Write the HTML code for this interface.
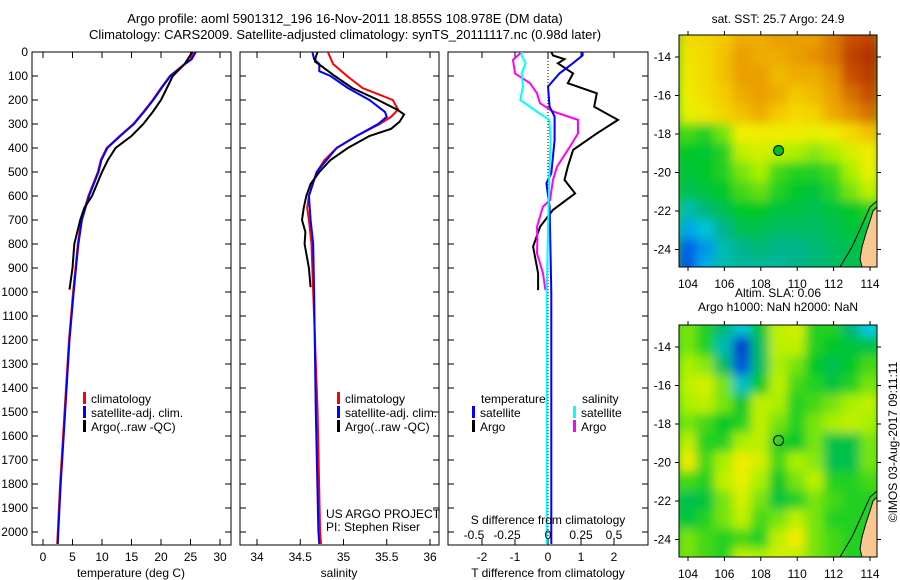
<!DOCTYPE html>
<html><head><meta charset="utf-8"><style>
html,body{margin:0;padding:0;background:#fff;}
svg{display:block;font-family:"Liberation Sans",sans-serif;}
text{font-size:12px;fill:#000;}
</style></head><body>
<svg id="fig" width="900" height="580" viewBox="0 0 900 580" xmlns="http://www.w3.org/2000/svg">
<defs><filter id="blur" x="0" y="0" width="100%" height="100%"><feGaussianBlur stdDeviation="5"/></filter>
<clipPath id="c1"><rect x="679" y="35" width="198" height="232"/></clipPath>
<clipPath id="c2"><rect x="679" y="325" width="198" height="232"/></clipPath>
<clipPath id="p1"><rect x="32" y="52" width="199" height="493"/></clipPath>
<clipPath id="p2"><rect x="240" y="52" width="199" height="493"/></clipPath>
<clipPath id="p3"><rect x="448" y="52" width="200" height="493"/></clipPath></defs>
<text x="345" y="23" text-anchor="middle" style="font-size:13px">Argo profile: aoml 5901312_196 16-Nov-2011 18.855S 108.978E (DM data)</text>
<text x="345" y="39" text-anchor="middle" style="font-size:13px">Climatology: CARS2009. Satellite-adjusted climatology: synTS_20111117.nc (0.98d later)</text>
<g id="g"></g>
</svg>
<script>
// ---- data ----
const tClimDepth=[0,30,50,100,150,200,250,300,350,400,450,500,600,700,800,900,1000,1200,1400,1600,1800,2000,2050];
const tClimVal=[25.5,25,24,21.5,20,18.6,17,15.3,13,10.8,9.8,9.3,7.7,6.5,5.9,5.5,5.1,4.4,3.9,3.4,2.9,2.5,2.4];
const tSatVal=[25.9,25.2,24.1,21.6,20.1,18.7,17.1,15.4,13.1,10.9,9.9,9.4,7.8,6.6,6.0,5.6,5.2,4.5,4.0,3.5,3.0,2.6,2.5];
const tArgoDepth=[0,50,100,150,200,250,300,350,400,450,500,600,650,700,800,900,990];
const tArgoVal=[25.3,24,22,21,20,18.6,17,15,12.3,11,10,8.3,7,6.3,5.3,5,4.5];
const sClimDepth=[0,50,100,150,200,240,270,300,350,400,450,500,600,650,700,800,1000,1500,2000,2050];
const sClimVal=[34.82,34.88,35.04,35.22,35.57,35.63,35.55,35.42,35.15,34.92,34.78,34.69,34.6,34.58,34.6,34.63,34.65,34.7,34.73,34.74];
const sSatDepth=[0,30,50,80,100,150,200,250,270,300,350,400,500,600,700,800,1000,1500,2000,2050];
const sSatVal=[34.64,34.66,34.72,34.72,34.85,35.05,35.3,35.48,35.5,35.4,35.15,34.92,34.69,34.6,34.62,34.65,34.66,34.68,34.71,34.72];
const sArgoDepth=[0,20,40,60,100,150,200,240,260,290,320,350,400,450,500,550,600,650,700,750,800,900,980];
const sArgoVal=[34.7,34.68,34.67,34.75,34.9,35.1,35.4,35.62,35.7,35.65,35.55,35.3,35.05,34.85,34.72,34.62,34.57,34.54,34.52,34.56,34.55,34.6,34.62];
const dTSatDepth=[0,14,47,89,144,228,269,367,505,547,644,1000,2050];
const dTSatVal=[1.05,1.05,0.75,0.35,0,0.05,0.2,0.2,0.1,-0.05,0.05,0.1,0.1];
const dTArgoDepth=[0,14,30,47,89,130,172,228,283,339,408,478,533,589,658,728,811,922,992];
const dTArgoVal=[0.1,0.15,0.5,0.3,0.76,0.6,1.48,1.4,2.12,1.48,0.76,0.6,0.5,0.82,0.15,-0.24,-0.45,-0.3,-0.3];
const dSSatDepth=[0,14,47,89,144,200,250,283,367,505,1000,2050];
const dSSatVal=[-0.2,-0.2,-0.17,-0.2,-0.19,-0.21,-0.08,0.01,0.02,0.01,-0.01,-0.01];
const dSArgoDepth=[0,33,89,130,172,214,248,283,339,394,478,533,617,644,728,783,839,922,992];
const dSArgoVal=[-0.2,-0.265,-0.25,-0.136,-0.083,-0.06,0.038,0.227,0.227,0.167,0.068,0.038,0.015,-0.038,-0.083,-0.08,-0.083,-0.038,-0.02];
const depthTicks=[0,100,200,300,400,500,600,700,800,900,1000,1100,1200,1300,1400,1500,1600,1700,1800,1900,2000];
const tTicks=[0,5,10,15,20,25,30];
const sTicks=[34,34.5,35,35.5,36];
const sTickLabels=["34","34.5","35","35.5","36"];
const dTTicks=[-2,-1,0,1,2];
const dSTicks=[-0.5,-0.25,0,0.25,0.5];
const lonTicks=[104,106,108,110,112,114];
const latTicks=[-14,-16,-18,-20,-22,-24];
const sstGrid=[
[0.7,0.71,0.74,0.78,0.78,0.8,0.8,0.8,0.85,0.9,0.92],
[0.68,0.7,0.75,0.8,0.78,0.78,0.8,0.82,0.85,0.92,0.95],
[0.67,0.7,0.75,0.8,0.8,0.76,0.78,0.78,0.82,0.9,0.93],
[0.66,0.69,0.73,0.78,0.8,0.78,0.74,0.76,0.8,0.86,0.9],
[0.64,0.67,0.71,0.75,0.78,0.74,0.7,0.72,0.78,0.82,0.86],
[0.52,0.5,0.55,0.65,0.66,0.66,0.66,0.64,0.66,0.7,0.75],
[0.48,0.47,0.5,0.6,0.62,0.6,0.58,0.56,0.58,0.62,0.66],
[0.46,0.48,0.5,0.55,0.58,0.52,0.5,0.5,0.52,0.58,0.64],
[0.44,0.46,0.48,0.52,0.54,0.5,0.48,0.46,0.5,0.55,0.6],
[0.34,0.4,0.44,0.48,0.48,0.46,0.45,0.44,0.46,0.48,0.5],
[0.24,0.3,0.38,0.44,0.44,0.42,0.42,0.42,0.44,0.46,0.46],
[0.16,0.22,0.34,0.38,0.4,0.38,0.38,0.4,0.42,0.44,0.46],
[0.14,0.25,0.34,0.36,0.36,0.36,0.38,0.4,0.42,0.44,0.46]];
const slaGrid=[
[0.55,0.5,0.4,0.3,0.46,0.6,0.62,0.5,0.5,0.4,0.28],
[0.55,0.5,0.34,0.06,0.42,0.6,0.6,0.5,0.48,0.46,0.45],
[0.58,0.56,0.42,0.12,0.42,0.58,0.55,0.48,0.44,0.48,0.52],
[0.6,0.62,0.55,0.32,0.48,0.6,0.52,0.5,0.46,0.5,0.55],
[0.58,0.6,0.55,0.48,0.6,0.58,0.5,0.52,0.55,0.58,0.6],
[0.55,0.52,0.48,0.5,0.6,0.55,0.5,0.55,0.58,0.6,0.58],
[0.6,0.5,0.5,0.58,0.6,0.5,0.48,0.55,0.45,0.45,0.55],
[0.66,0.52,0.58,0.66,0.62,0.52,0.58,0.56,0.44,0.44,0.55],
[0.52,0.5,0.6,0.64,0.58,0.48,0.55,0.6,0.5,0.5,0.52],
[0.44,0.46,0.55,0.62,0.55,0.46,0.5,0.55,0.52,0.5,0.5],
[0.46,0.5,0.55,0.6,0.52,0.55,0.6,0.55,0.5,0.5,0.5],
[0.55,0.52,0.5,0.52,0.5,0.6,0.66,0.55,0.52,0.5,0.5],
[0.55,0.52,0.5,0.6,0.58,0.62,0.6,0.55,0.52,0.5,0.5]];
const argoLon=108.978, argoLat=-18.855;

// ---- helpers ----
const NS="http://www.w3.org/2000/svg";
const G=document.getElementById('g');
function mk(tag,attrs,parent){const e=document.createElementNS(NS,tag);for(const k in attrs)e.setAttribute(k,attrs[k]);(parent||G).appendChild(e);return e;}
function txt(x,y,s,anchor,parent){const e=mk('text',{x:x,y:y,'text-anchor':anchor||'start'},parent);e.textContent=s;return e;}
const yD=d=>52+d*0.24;
const xT=t=>43+t*5.9;
const xS=s=>257+(s-34)*86.5;
const xdT=v=>548+v*33;
const xdS=v=>548+v*132;
function line(depths,vals,xf,color,name,clip,w){
  const pts=depths.map((d,i)=>xf(vals[i]).toFixed(1)+','+yD(d).toFixed(1)).join(' ');
  const p=mk('polyline',{points:pts,fill:'none',stroke:color,'stroke-width':w||2,'clip-path':'url(#'+clip+')'});
  
  
}
function panel(x0,x1,name){
  const r=mk('rect',{x:x0,y:52,width:x1-x0,height:493,fill:'none',stroke:'#000','stroke-width':1});
  
  
  depthTicks.forEach(d=>{mk('line',{x1:x0,x2:x0+6,y1:yD(d),y2:yD(d),stroke:'#000'});mk('line',{x1:x1-6,x2:x1,y1:yD(d),y2:yD(d),stroke:'#000'});});
}
function xticks(vals,labels,xf,x0,x1,name){
  vals.forEach((v,i)=>{const x=xf(v);mk('line',{x1:x,x2:x,y1:52,y2:58,stroke:'#000'});mk('line',{x1:x,x2:x,y1:539,y2:545,stroke:'#000'});
    const t=txt(x,561,labels[i],'middle');});
}
function legend(x,y,color,label){
  mk('rect',{x:x,y:y-11,width:3,height:12,fill:color});
  const t=txt(x+8,y,label);
  
  
}
// ---- panel 1 ----
panel(32,231,'temperature-panel');
depthTicks.forEach(d=>{const t=txt(28,yD(d)+4,String(d),'end');});
xticks(tTicks,tTicks.map(String),xT,32,231,'temperature');
line(tClimDepth,tClimVal,xT,'#ff0000','temperature-climatology-line','p1',2);
line(tClimDepth,tSatVal,xT,'#0000ff','temperature-satellite-line','p1',2);
line(tArgoDepth,tArgoVal,xT,'#000000','temperature-argo-line','p1',2);
legend(83,403,'#f00','climatology');legend(83,417,'#00f','satellite-adj. clim.');legend(83,431,'#000','Argo(..raw -QC)');
{const t=txt(131,577,'temperature (deg C)','middle');}
// ---- panel 2 ----
panel(240,439,'salinity-panel');
xticks(sTicks,sTickLabels,xS,240,439,'salinity');
line(sClimDepth,sClimVal,xS,'#ff0000','salinity-climatology-line','p2',2);
line(sSatDepth,sSatVal,xS,'#0000ff','salinity-satellite-line','p2',2);
line(sArgoDepth,sArgoVal,xS,'#000000','salinity-argo-line','p2',2);
legend(337,403,'#f00','climatology');legend(337,417,'#00f','satellite-adj. clim.');legend(337,431,'#000','Argo(..raw -QC)');
{const t=txt(326,518,'US ARGO PROJECT');
 const u=txt(326,531,'PI: Stephen Riser');
 const v=txt(339,577,'salinity','middle');}
// ---- panel 3 ----
panel(448,648,'difference-panel');
xticks(dTTicks,dTTicks.map(String),xdT,448,648,'t-difference');
mk('line',{x1:548,x2:548,y1:52,y2:545,stroke:'#000','stroke-dasharray':'1,2'});
line(dTArgoDepth,dTArgoVal,xdT,'#000000','t-diff-argo-line','p3',2);
line(dSArgoDepth,dSArgoVal,xdS,'#ff00ff','s-diff-argo-line','p3',2);
line(dTSatDepth,dTSatVal,xdT,'#0000ff','t-diff-satellite-line','p3',2);
line(dSSatDepth,dSSatVal,xdS,'#00ffff','s-diff-satellite-line','p3',2);
txt(481,403,'temperature');txt(582,403,'salinity');
legend(472,417,'#00f','satellite');legend(472,431,'#000','Argo');
legend(573,417,'#0ff','satellite');legend(573,431,'#f0f','Argo');
{const t=txt(548,524,'S difference from climatology','middle');}
dSTicks.forEach(v=>{const t=txt(xdS(v)-(v<0?8:0),539,String(v),'middle');});
{const t=txt(548,577,'T difference from climatology','middle');}
// ---- maps ----
const cmapStops=[[0,[0,48,190]],[0.15,[0,90,230]],[0.28,[0,200,230]],[0.38,[0,180,140]],[0.48,[0,200,40]],[0.58,[170,240,0]],[0.65,[240,240,0]],[0.74,[245,200,0]],[0.82,[230,145,0]],[0.9,[200,80,0]],[1,[160,20,0]]];
function cmap(v){for(let i=1;i<cmapStops.length;i++){if(v<=cmapStops[i][0]){const a=cmapStops[i-1],b=cmapStops[i],f=(v-a[0])/(b[0]-a[0]);return 'rgb('+a[1].map((c,k)=>Math.round(c+(b[1][k]-c)*f)).join(',')+')';}}return 'rgb(160,20,0)';}
const xLon=lon=>688+(lon-104)*18.2;
function drawMap(grid,top,clip,name,title1,title2){
  const yLat=lat=>top+22+(-14-lat)*19.25;
  const g=mk('g',{'clip-path':'url(#'+clip+')'});
  
  
  mk('rect',{x:679,y:top,width:198,height:232,fill:cmap(0.5)},g);
  const g2=mk('g',{filter:'url(#blur)'},g);
  grid.forEach((row,r)=>row.forEach((v,c)=>{const lat=-13+(-r),lon=104+c;
    mk('rect',{x:xLon(lon-0.5)-1,y:yLat(lat+0.5)-1,width:20.2,height:21.3,fill:cmap(v)},g2);}));
  const land=mk('polygon',{points:[[877,top+172],[873,top+176],[870,top+186],[866,top+198],[862,top+212],[860,top+224],[862,top+232],[877,top+232]].map(p=>p.join(',')).join(' '),fill:'#f9c890',stroke:'#000','stroke-width':1},g);
  
  
  mk('polyline',{points:'840,'+(top+232)+' 852,'+(top+212)+' 862,'+(top+190)+' 870,'+(top+172)+' 877,'+(top+166),fill:'none',stroke:'#000','stroke-width':1},g);
  mk('rect',{x:679,y:top,width:198,height:232,fill:'none',stroke:'#000'});
  lonTicks.forEach(l=>{const x=xLon(l);mk('line',{x1:x,x2:x,y1:top-4,y2:top,stroke:'#000'});mk('line',{x1:x,x2:x,y1:top+232,y2:top+236,stroke:'#000'});
    const t=txt(x,top+253,String(l),'middle');});
  latTicks.forEach(l=>{const y=yLat(l);mk('line',{x1:675,x2:679,y1:y,y2:y,stroke:'#000'});mk('line',{x1:877,x2:881,y1:y,y2:y,stroke:'#000'});
    const t=txt(671,y+4,String(l),'end');});
  const m=mk('circle',{cx:xLon(argoLon),cy:yLat(argoLat),r:5,fill:title2?'none':'#00c020',stroke:'#000','stroke-width':1});
  
  
  if(title2){const t=txt(778,top-28,title1,'middle');
    const u=txt(778,top-14,title2,'middle');}
  else{const t=txt(778,top-12,title1,'middle');}
}
drawMap(sstGrid,35,'c1','sst-map','sat. SST: 25.7 Argo: 24.9');
drawMap(slaGrid,325,'c2','sla-map','Altim. SLA: 0.06','Argo h1000: NaN h2000: NaN');
{const t=txt(0,0,'©IMOS 03-Aug-2017 09:11:11','middle');t.setAttribute('transform','translate(897,442) rotate(-90)');}
</script>
</body></html>
